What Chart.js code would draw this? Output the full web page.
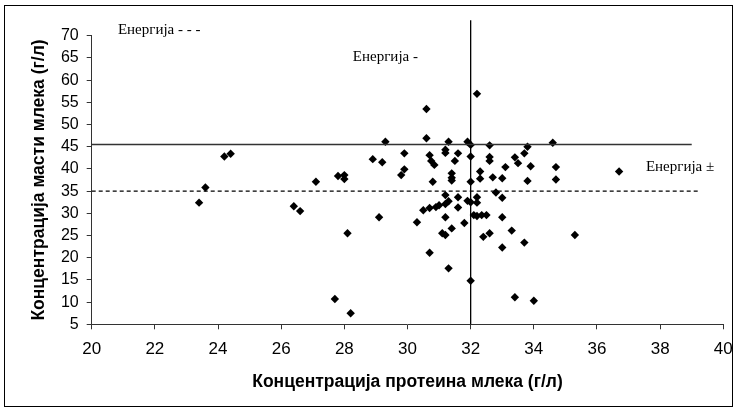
<!DOCTYPE html>
<html>
<head>
<meta charset="utf-8">
<script src="https://cdn.jsdelivr.net/npm/chart.js@4"></script>
<style>
  html, body { margin: 0; padding: 0; background: #fff; }
  #wrap { width: 735px; height: 411px; }
</style>
</head>
<body>
<div id="wrap"><canvas id="mainChart" width="735" height="411"></canvas></div>
<script>
// Points (protein g/l, fat g/l)
const proteinX = [23.4, 23.6, 24.2, 24.4, 26.4, 26.6, 27.1, 27.7, 27.8, 28.0, 28.0, 28.1, 28.2, 28.9, 29.1, 29.2, 29.3, 29.8, 29.9, 29.9,
  30.3, 30.5, 30.6, 30.6, 30.7, 30.75, 30.85, 30.7, 30.7, 30.8, 30.9, 31.0, 31.1, 31.2, 31.2, 31.2, 31.2, 31.2, 31.2, 31.3,
  31.3, 31.3, 31.4, 31.4, 31.4, 31.4, 31.5, 31.6, 31.6, 31.6, 31.8, 31.9, 31.9, 32.0, 32.0, 32.0, 32.0, 32.0, 32.1, 32.2,
  32.2, 32.2, 32.2, 32.3, 32.3, 32.35, 32.4, 32.5, 32.6, 32.6, 32.6, 32.6, 32.7, 32.8, 33.0, 33.0, 33.0, 33.0, 33.1, 33.3,
  33.4, 33.4, 33.5, 33.7, 33.7, 33.8, 33.8, 33.9, 34.0, 34.6, 34.7, 34.7, 35.3, 36.7];
const fatY = [32.4, 35.8, 42.8, 43.4, 31.6, 30.5, 37.1, 10.7, 38.4, 38.6, 37.7, 25.5, 7.5, 42.2, 29.1, 41.5, 46.1, 38.6, 39.9, 43.5,
  28.0, 30.7, 53.5, 46.9, 43.1, 41.8, 40.9, 31.2, 21.1, 37.1, 31.4, 31.8, 25.5, 44.3, 43.6, 32.1, 34.1, 29.1, 25.1, 32.7,
  46.1, 17.6, 39.0, 38.0, 37.4, 26.6, 41.8, 43.5, 33.6, 31.3, 27.8, 46.1, 32.8, 45.4, 42.8, 37.1, 32.5, 14.8, 29.6, 56.9,
  33.6, 32.4, 29.4, 39.4, 37.8, 29.6, 24.7, 29.6, 45.3, 42.7, 41.8, 25.5, 38.1, 34.7, 37.9, 33.5, 29.1, 22.3, 40.4, 26.1,
  42.6, 11.1, 41.3, 43.5, 23.4, 45.0, 37.3, 40.6, 10.3, 45.9, 40.4, 37.6, 25.1, 39.4];

// Reference lines
const fatHigh = 45.5;
const fatLow = 35;
const proteinRef = 32;
const lineEndX = 39;
const dashEndX = 39.2;
const vLineTop = 73.5;

// Axis ticks
const xTicksMin = 20, xTicksMax = 40, xStep = 2;
const yTicksMin = 5, yTicksMax = 70, yStep = 5;

// Text notes inside the plot (in data units)
const noteTexts = ["Енергија - - -", "Енергија -", "Енергија ±"];
const noteX = [20.83, 28.27, 37.55];
const noteY = [71.3, 65.2, 40.4];

const points = proteinX.map((x, i) => ({ x: x, y: fatY[i] }));

const notesPlugin = {
  id: "notes",
  beforeDraw(chart) {
    const ctx = chart.ctx;
    ctx.save();
    ctx.fillStyle = "#fff";
    ctx.fillRect(0, 0, chart.width, chart.height);
    ctx.strokeStyle = "#000";
    ctx.lineWidth = 1;
    ctx.strokeRect(4.5, 5.5, 728, 401);
    ctx.restore();
  },
  afterDraw(chart) {
    const ctx = chart.ctx;
    const xs = chart.scales.x, ys = chart.scales.y;
    ctx.save();
    ctx.fillStyle = "#000";
    ctx.font = "15px 'Liberation Serif', 'Times New Roman', serif";
    ctx.textBaseline = "middle";
    noteTexts.forEach((t, i) => {
      ctx.fillText(t, xs.getPixelForValue(noteX[i]), ys.getPixelForValue(noteY[i]));
    });
    ctx.restore();
  }
};

const config = {
  type: "scatter",
  data: {
    datasets: [
      {
        type: "line",
        data: [{ x: xTicksMin, y: fatHigh }, { x: lineEndX, y: fatHigh }],
        borderColor: "#333",
        borderWidth: 1.5,
        pointRadius: 0,
        fill: false
      },
      {
        type: "line",
        data: [{ x: xTicksMin, y: fatLow }, { x: dashEndX, y: fatLow }],
        borderColor: "#000",
        borderWidth: 1.2,
        borderDash: [4, 3],
        pointRadius: 0,
        fill: false
      },
      {
        type: "line",
        data: [{ x: proteinRef, y: yTicksMin }, { x: proteinRef, y: vLineTop }],
        borderColor: "#000",
        borderWidth: 1.3,
        pointRadius: 0,
        fill: false,
        clip: false
      },
      {
        data: points,
        pointStyle: "rectRot",
        pointRadius: 4.2,
        backgroundColor: "#000",
        borderColor: "#000",
        borderWidth: 0
      }
    ]
  },
  options: {
    responsive: false,
    animation: false,
    events: [],
    layout: { padding: { left: 0, right: 11.7, top: 35.7, bottom: 0 } },
    plugins: { legend: { display: false }, tooltip: { enabled: false } },
    scales: {
      x: {
        type: "linear",
        min: xTicksMin,
        max: xTicksMax,
        ticks: { stepSize: xStep, color: "#000", padding: 10, font: { family: "Arial, 'Liberation Sans'", size: 17 } },
        grid: { drawOnChartArea: false, color: "#333", tickLength: 5 },
        border: { color: "#333", width: 1 },
        title: {
          display: true,
          text: "Концентрација протеина млека (г/л)",
          color: "#000",
          font: { family: "Arial, 'Liberation Sans'", size: 17.5, weight: "bold" },
          padding: { top: 0, bottom: 18 }
        },
        afterFit(scale) {
          scale.height = 86.7;
          scale.paddingLeft = 0;
          scale.paddingRight = 0;
        }
      },
      y: {
        type: "linear",
        min: yTicksMin,
        max: yTicksMax,
        ticks: { stepSize: yStep, color: "#000", padding: 8, font: { family: "Arial, 'Liberation Sans'", size: 16 } },
        grid: { drawOnChartArea: false, color: "#333", tickLength: 5 },
        border: { color: "#333", width: 1 },
        title: {
          display: true,
          text: "Концентрација масти млека (г/л)",
          color: "#000",
          font: { family: "Arial, 'Liberation Sans'", size: 17.5, weight: "bold" },
          padding: { top: 29, bottom: 0 }
        },
        afterFit(scale) {
          scale.width = 91.7;
          scale.paddingTop = 0;
          scale.paddingBottom = 0;
        }
      }
    }
  },
  plugins: [notesPlugin]
};

const myChart = new Chart(document.getElementById("mainChart"), config);
</script>
</body>
</html>
